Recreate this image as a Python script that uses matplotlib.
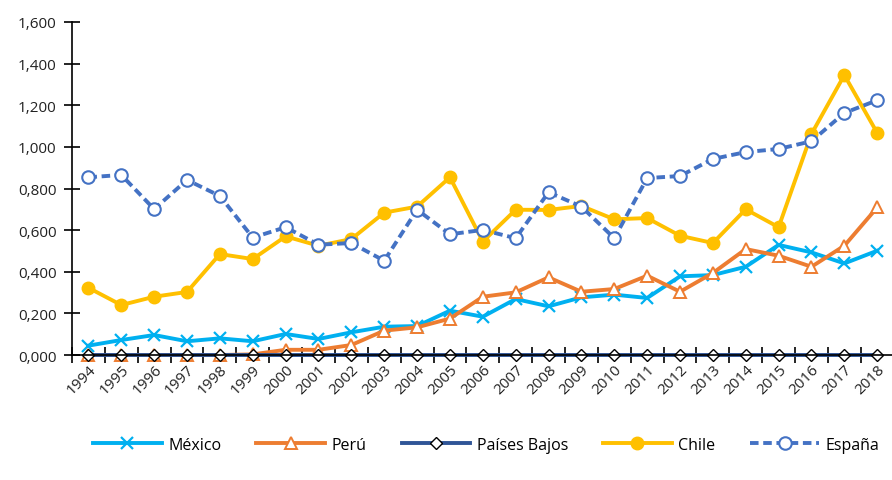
import matplotlib.pyplot as plt
from matplotlib.ticker import FixedLocator

plt.rcParams['font.family'] = ['Open Sans', 'DejaVu Sans']

years = [str(y) for y in range(1994, 2019)]

mexico = [0.045, 0.072, 0.096, 0.066, 0.080, 0.066, 0.101, 0.077, 0.109, 0.136,
          0.139, 0.213, 0.184, 0.269, 0.234, 0.277, 0.290, 0.274, 0.378, 0.384,
          0.424, 0.529, 0.493, 0.440, 0.501]
peru = [0.0, 0.0, 0.0, 0.0, 0.0, 0.003, 0.025, 0.025, 0.048, 0.117,
        0.133, 0.175, 0.280, 0.301, 0.373, 0.304, 0.317, 0.381, 0.304, 0.394,
        0.509, 0.477, 0.424, 0.525, 0.709]
paises_bajos = [0.0] * 25
chile = [0.323, 0.240, 0.280, 0.303, 0.485, 0.461, 0.570, 0.525, 0.557, 0.684,
         0.713, 0.854, 0.545, 0.698, 0.697, 0.716, 0.652, 0.658, 0.573, 0.538,
         0.700, 0.614, 1.062, 1.345, 1.067]
espana = [0.854, 0.865, 0.701, 0.841, 0.764, 0.564, 0.614, 0.530, 0.538, 0.453,
          0.698, 0.580, 0.601, 0.561, 0.782, 0.713, 0.561, 0.850, 0.860, 0.942,
          0.975, 0.990, 1.027, 1.163, 1.224]

y_ticks = [0, 0.2, 0.4, 0.6, 0.8, 1.0, 1.2, 1.4, 1.6]
y_labels = ['0,000', '0,200', '0,400', '0,600', '0,800', '1,000', '1,200', '1,400', '1,600']

fig = plt.figure(figsize=(8.92, 4.81), dpi=100)
ax = fig.add_axes([72 / 892, 1 - 356 / 481, (892 - 72) / 892, (356 - 23) / 481])
x = list(range(len(years)))

ax.plot(x, mexico, color='#00B0F0', lw=2.8, marker='x', ms=9, mew=1.6, label='México')
ax.plot(x, peru, color='#ED7D31', lw=2.8, marker='^', ms=9, mfc='white', mec='#ED7D31',
        mew=1.4, label='Perú')
ax.plot(x, paises_bajos, color='#2F5597', lw=2.8, marker='D', ms=6, mfc='white', mec='black',
        mew=1.0, label='Países Bajos')
ax.plot(x, chile, color='#FFC000', lw=2.8, marker='o', ms=9, label='Chile')
ax.plot(x, espana, color='#4472C4', lw=2.8, ls=(0, (2.2, 1.2)), marker='o', ms=9, mfc='white',
        mec='#4472C4', mew=1.5, label='España')

ax.set_xlim(-0.5, 24.45)
ax.set_ylim(0, 1.6)
ax.set_yticks(y_ticks)
ax.set_yticklabels(y_labels, fontsize=11, color='#222222')
ax.set_xticks(x)
ax.set_xticklabels(years, rotation=45, ha='right', rotation_mode='anchor', fontsize=11,
                   color='#222222')
ax.tick_params(axis='x', which='major', length=0, pad=5)
ax.xaxis.set_minor_locator(FixedLocator([i + 0.5 for i in range(-1, 25)]))
ax.tick_params(axis='x', which='minor', direction='inout', length=11, width=1.2, color='black')
ax.tick_params(axis='y', direction='inout', length=12, width=1.2, color='black', pad=5)

for s in ['top', 'right']:
    ax.spines[s].set_visible(False)
ax.spines['left'].set_linewidth(1.2)
ax.spines['bottom'].set_linewidth(1.2)
for l in ax.lines:
    l.set_clip_on(False)

fig.legend(loc='center', bbox_to_anchor=(0.545, 0.073), ncol=5, frameon=False, fontsize=11.5,
           handlelength=4.3, columnspacing=2.2, handletextpad=0.4)

fig.savefig('out.png', dpi=100)
